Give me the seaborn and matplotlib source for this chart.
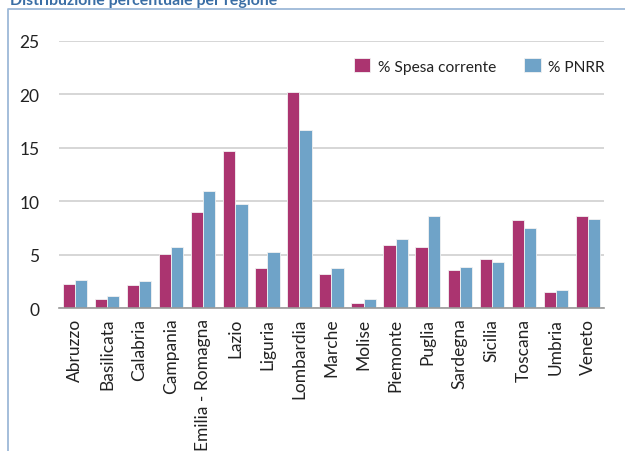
import matplotlib
matplotlib.use("Agg")
import matplotlib.pyplot as plt
import seaborn as sns
import pandas as pd
from matplotlib.lines import Line2D

regions = ["Abruzzo", "Basilicata", "Calabria", "Campania", "Emilia - Romagna", "Lazio",
           "Liguria", "Lombardia", "Marche", "Molise", "Piemonte", "Puglia", "Sardegna",
           "Sicilia", "Toscana", "Umbria", "Veneto"]
spesa_corrente = [2.27, 0.87, 2.15, 5.08, 9.0, 14.74, 3.71, 20.2, 3.18, 0.5, 5.89, 5.67,
                  3.58, 4.58, 8.22, 1.53, 8.63]
pnrr = [2.65, 1.12, 2.55, 5.7, 10.93, 9.75, 5.2, 16.67, 3.74, 0.81, 6.45, 8.63,
        3.86, 4.27, 7.48, 1.68, 8.32]
series_names = ["% Spesa corrente", "% PNRR"]
colors = ["#AB3470", "#6FA3C8"]
title = "Distribuzione percentuale per regione"
yticks = [0, 5, 10, 15, 20, 25]

df = pd.DataFrame({
    "regione": regions * 2,
    "valore": spesa_corrente + pnrr,
    "serie": [series_names[0]] * len(regions) + [series_names[1]] * len(regions),
})

sns.set_style("white")
plt.rcParams["font.family"] = ["Lato", "DejaVu Sans"]

W, H = 625, 452
fig = plt.figure(figsize=(W / 100, H / 100), dpi=100)
ax = fig.add_axes([59 / W, (H - 309) / H, 545 / W, 267 / H])

sns.barplot(data=df, x="regione", y="valore", hue="serie", hue_order=series_names,
            order=regions, palette=colors, width=0.76, ax=ax,
            edgecolor="#F2F2F2", linewidth=0.6, saturation=1)

ax.set_ylim(0, 25)
ax.set_xlim(-0.5, len(regions) - 0.5)
ax.set_yticks(yticks)
ax.set_yticklabels([str(v) for v in yticks], fontsize=12.5, color="#222222")
ax.yaxis.grid(True, color="#CFCFCF", linewidth=1.2)
ax.set_axisbelow(True)
ax.tick_params(axis="y", length=0, pad=14)
ax.set_xlabel("")
ax.set_ylabel("")
ax.set_xticks(range(len(regions)))
ax.set_xticklabels(regions, rotation=90, fontsize=12.5, color="#222222")
ax.set_xticks([i - 0.5 for i in range(len(regions) + 1)], minor=True)
ax.tick_params(axis="x", which="major", length=0, pad=7)
ax.tick_params(axis="x", which="minor", length=8, width=1.2, color="#9A9A9A", direction="inout")
for s in ["top", "right", "left"]:
    ax.spines[s].set_visible(False)
ax.spines["bottom"].set_color("#9A9A9A")
ax.spines["bottom"].set_linewidth(1.2)

handles, labels = ax.get_legend_handles_labels()
leg = ax.legend(handles, labels, ncol=2, frameon=False, fontsize=11.2,
                loc="upper left", bbox_to_anchor=(354 / W, 1 - 59 / H),
                bbox_transform=fig.transFigure, handlelength=1.05, handleheight=1.05,
                handletextpad=0.5, columnspacing=1.8, borderaxespad=0, borderpad=0)
for t in leg.get_texts():
    t.set_color("#222222")

# frame
fig.add_artist(Line2D([8 / W, 8 / W, 1.0], [0.0, 1 - 9.5 / H, 1 - 9.5 / H],
                      transform=fig.transFigure, color="#9DB9D8", linewidth=1.3))
fig.text(10 / W, 1 - 5 / H, title, color="#3A6EA5", fontsize=11.4, fontweight="bold",
         ha="left", va="baseline")

fig.savefig("out.png", dpi=100)
